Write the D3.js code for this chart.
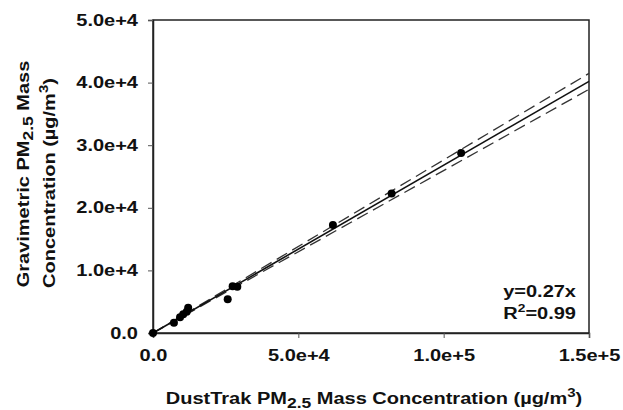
<!DOCTYPE html>
<html>
<head>
<meta charset="utf-8">
<script src="https://cdn.jsdelivr.net/npm/d3@7"></script>
<style>
  body { margin: 0; background: #fff; }
  text { font-family: "Liberation Sans", Arial, sans-serif; font-weight: bold; fill: #111; }
</style>
</head>
<body>
<div id="chart"><svg width="623" height="410"></svg></div>
<script>
// DustTrak vs gravimetric PM2.5 (ug/m3)
const dustTrak = [0, 7200, 9300, 10400, 11600, 12100, 25700, 27400, 29000, 61900, 82100, 106000];
const gravimetric = [0, 1650, 2500, 3000, 3400, 4050, 5400, 7450, 7400, 17250, 22300, 28750];
const xTicks = [0, 50000, 100000, 150000];
const yTicks = [0, 10000, 20000, 30000, 40000, 50000];
const fitSlope = 0.268;
const ciSlopes = [0.2765, 0.2595];
const fitLabel = "y=0.27x";
const r2Label = "=0.99";

const margin = { top: 20, right: 34, bottom: 77, left: 153 },
  width = 623 - margin.left - margin.right,
  height = 410 - margin.top - margin.bottom;
const sx = 1.25; // the original lettering is stretched sideways
const fs = "16px";

const svg = d3
  .select("#chart svg")
  .append("g")
  .attr("transform", `translate(${margin.left},${margin.top})`);

const x = d3.scaleLinear().domain([0, 150000]).range([0, width]);
const y = d3.scaleLinear().domain([0, 50000]).range([height, 0]);

const fmt = (d) => (d === 0 ? "0.0" : d3.format(".1e")(d));

// frame
svg
  .append("rect")
  .attr("width", width)
  .attr("height", height)
  .style("fill", "none")
  .style("stroke", "#222")
  .style("stroke-width", 1.5);

const xAxis = svg
  .append("g")
  .attr("transform", `translate(0,${height})`)
  .call(d3.axisBottom(x).tickValues(xTicks).tickFormat(fmt).tickSize(5).tickPadding(12));
xAxis.selectAll("text").style("font-size", fs).attr("transform", `scale(${sx},1)`);

const yAxis = svg
  .append("g")
  .call(d3.axisLeft(y).tickValues(yTicks).tickFormat(fmt).tickSize(5));
yAxis
  .selectAll("text")
  .style("font-size", fs)
  .attr("x", -15 / sx)
  .attr("transform", `scale(${sx},1)`);

[xAxis, yAxis].forEach((a) => {
  a.select(".domain").style("stroke", "#222").style("stroke-width", 1.5);
  a.selectAll(".tick line").style("stroke", "#555");
});

// regression line and confidence lines
const xMax = x.domain()[1];
ciSlopes.forEach((s) => {
  svg
    .append("line")
    .attr("x1", x(0))
    .attr("y1", y(0))
    .attr("x2", x(xMax))
    .attr("y2", y(s * xMax))
    .style("stroke", "#333")
    .style("stroke-width", 1.3)
    .style("stroke-dasharray", "12,6");
});
svg
  .append("line")
  .attr("x1", x(0))
  .attr("y1", y(0))
  .attr("x2", x(xMax))
  .attr("y2", y(fitSlope * xMax))
  .style("stroke", "#111")
  .style("stroke-width", 1.6);

svg
  .selectAll(".dot")
  .data(dustTrak.map((d, i) => ({ x: d, y: gravimetric[i] })))
  .enter()
  .append("circle")
  .attr("class", "dot")
  .attr("cx", (d) => x(d.x))
  .attr("cy", (d) => y(d.y))
  .attr("r", 4)
  .style("fill", "#000");

// annotation
const ann = svg.append("g").attr("transform", `translate(${width - 13},0)`);
ann
  .append("text")
  .attr("transform", `translate(0,277) scale(${sx},1)`)
  .style("text-anchor", "end")
  .style("font-size", fs)
  .text(fitLabel);
const r2 = ann
  .append("text")
  .attr("transform", `translate(0,299) scale(${sx},1)`)
  .style("text-anchor", "end")
  .style("font-size", fs);
r2.append("tspan").text("R");
r2.append("tspan").attr("dy", -7).style("font-size", "11px").text("2");
r2.append("tspan").attr("dy", 7).text(r2Label);

// axis titles
function pmTitle(sel, before, after) {
  sel.append("tspan").text(before);
  sel.append("tspan").attr("dy", 4).style("font-size", "14px").text("2.5");
  sel.append("tspan").attr("dy", -4).text(after);
}
function unitTail(sel) {
  sel.append("tspan").text("(\u00b5g/m");
  sel.append("tspan").attr("dy", -7).style("font-size", "12px").text("3");
  sel.append("tspan").attr("dy", 7).text(")");
}

const xTitle = svg
  .append("text")
  .attr("transform", `translate(${width / 2 + 3},${height + 71}) scale(${sx},1)`)
  .style("text-anchor", "middle")
  .style("font-size", fs);
pmTitle(xTitle, "DustTrak PM", " Mass Concentration ");
unitTail(xTitle);

const yTitle1 = svg
  .append("text")
  .attr("transform", `translate(${29 - margin.left},${174 - margin.top}) rotate(-90) scale(${sx},1)`)
  .style("text-anchor", "middle")
  .style("font-size", fs);
pmTitle(yTitle1, "Gravimetric PM", " Mass");

const yTitle2 = svg
  .append("text")
  .attr("transform", `translate(${55 - margin.left},${183 - margin.top}) rotate(-90) scale(${sx},1)`)
  .style("text-anchor", "middle")
  .style("font-size", fs);
yTitle2.append("tspan").text("Concentration ");
unitTail(yTitle2);
</script>
</body>
</html>
